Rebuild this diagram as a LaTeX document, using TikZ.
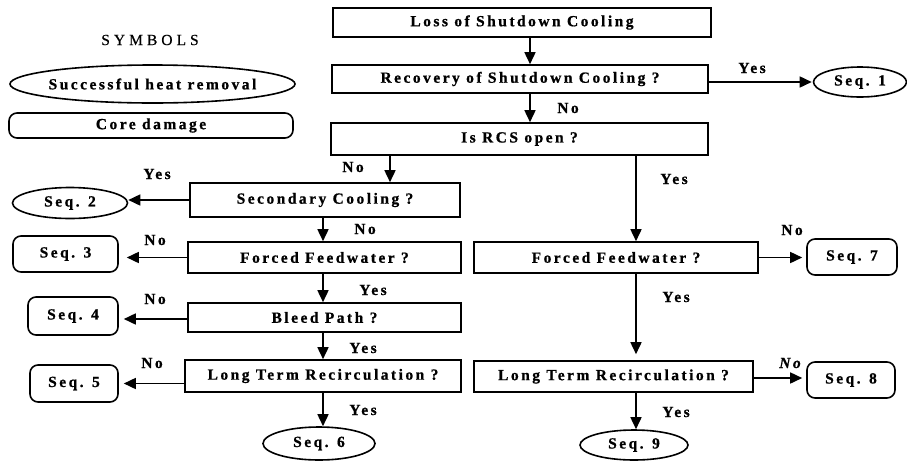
\documentclass[tikz,border=0pt]{standalone}
\usepackage{fontspec}
\setmainfont{Liberation Serif}[LetterSpace=16, BoldFeatures={FakeBold=0.8}, BoldItalicFeatures={FakeBold=0.8}]
\newfontfamily\symfont{Liberation Serif}[LetterSpace=26, FakeBold=0.5]
\usetikzlibrary{shapes.geometric,arrows.meta}
\begin{document}
\begin{tikzpicture}[x=1pt,y=-1pt,
  font=\bfseries\fontsize{15.5}{18}\selectfont,
  box/.style={draw, line width=1.6pt, rectangle, inner sep=0pt},
  term/.style={draw, line width=1.6pt, rounded corners=8pt, inner sep=0pt},
  oval/.style={draw, line width=1.6pt, ellipse, inner sep=0pt},
  arr/.style={line width=1.6pt, -{Triangle[length=12pt,width=11pt]}},
  lbl/.style={inner sep=0pt}]
\useasboundingbox (0,0) rectangle (907,461);

% legend
\node[lbl, font=\symfont\fontsize{15.5}{18}\selectfont] (symt) at (150,40) {SYMBOLS};
\node[oval, minimum width=285pt, minimum height=38pt] (symE) at (152.5,84) {};
\node[lbl] (symEt) at (symE) {Successful heat removal};
\node[term, minimum width=284pt, minimum height=25pt] (symR) at (151,125.5) {Core damage};

% process boxes
\node[box, minimum width=378pt, minimum height=29pt] (loss) at (522,22.5) {Loss of Shutdown Cooling};
\node[box, minimum width=376pt, minimum height=28pt] (rec) at (520,79) {Recovery of Shutdown Cooling ?};
\node[box, minimum width=377pt, minimum height=32pt] (rcs) at (519.5,139) {Is RCS open ?};
\node[box, minimum width=270pt, minimum height=34pt] (sec) at (325,200) {Secondary Cooling ?};
\node[box, minimum width=273pt, minimum height=31pt] (ffl) at (324.5,257.5) {Forced Feedwater ?};
\node[box, minimum width=273pt, minimum height=29pt] (bleed) at (324.5,317.5) {Bleed Path ?};
\node[box, minimum width=276pt, minimum height=32pt] (ltrl) at (323,376) {Long Term Recirculation ?};
\node[box, minimum width=284pt, minimum height=31pt] (ffr) at (616,257.5) {Forced Feedwater ?};
\node[box, minimum width=279pt, minimum height=31pt] (ltrr) at (613.5,376.5) {Long Term Recirculation ?};

% end states
\node[oval, minimum width=93pt, minimum height=30pt] (seq1) at (860,82) {Seq. 1};
\node[oval, minimum width=115pt, minimum height=31pt] (seq2) at (70,203) {Seq. 2};
\node[term, minimum width=105pt, minimum height=36pt] (seq3) at (65.5,254) {Seq. 3};
\node[term, minimum width=90pt, minimum height=38pt] (seq4) at (73,316) {Seq. 4};
\node[term, minimum width=88pt, minimum height=37pt] (seq5) at (74,383.5) {Seq. 5};
\node[oval, minimum width=112pt, minimum height=33pt] (seq6) at (319,443.5) {Seq. 6};
\node[term, minimum width=90pt, minimum height=36pt] (seq7) at (852,257) {Seq. 7};
\node[term, minimum width=88pt, minimum height=36pt] (seq8) at (851,380) {Seq. 8};
\node[oval, minimum width=108pt, minimum height=30pt] (seq9) at (634,445) {Seq. 9};

% columns
\coordinate (cA) at (530,0);
\coordinate (cM) at (390,0);
\coordinate (cL) at (323,0);
\coordinate (cR) at (636,0);

% connectors
\draw[arr] (loss.south -| cA) -- (rec.north -| cA);
\draw[arr] (rec.south -| cA) -- (rcs.north -| cA);
\draw[arr, shorten >=1pt] (rec.east |- seq1.west) -- (seq1.west);
\draw[arr] (rcs.south -| cM) -- (sec.north -| cM);
\draw[arr] (rcs.south -| cR) -- (ffr.north -| cR);
\draw[arr] (sec.west) -- (seq2.east |- sec.west);
\draw[arr] (sec.south -| cL) -- (ffl.north -| cL);
\draw[arr, shorten >=8pt] (ffl.west) -- (seq3.east |- ffl.west);
\draw[arr] (ffl.south -| cL) -- (bleed.north -| cL);
\draw[arr, shorten >=5pt] (bleed.west) ++(0,1.5) -- (seq4.east |- 0,319);
\draw[arr] (bleed.south -| cL) -- (ltrl.north -| cL);
\draw[arr, shorten >=5pt] (ltrl.west |- seq5.east) -- (seq5.east);
\draw[arr] (ltrl.south -| cL) -- (seq6.north -| cL);
\draw[arr, shorten >=4pt] (ffr.east) -- (seq7.west |- ffr.east);
\draw[arr, shorten >=6pt] (ffr.south -| cR) -- (ltrr.north -| cR);
\draw[arr, shorten >=4pt] (ltrr.east |- 0,378) -- (seq8.west |- 0,378);
\draw[arr] (ltrr.south -| cR) -- (seq9.north -| cR);

% labels
\node[lbl] (n1) at (568,108) {No};
\node[lbl] (y1) at (752,68) {Yes};
\node[lbl] (n2) at (353,167) {No};
\node[lbl] (y2) at (157,174) {Yes};
\node[lbl] (y3) at (674,179) {Yes};
\node[lbl] (n3) at (365,229) {No};
\node[lbl] (n4) at (155,240) {No};
\node[lbl] (n5) at (792,230) {No};
\node[lbl] (y4) at (373,290) {Yes};
\node[lbl] (y5) at (676,297) {Yes};
\node[lbl] (n6) at (155,299) {No};
\node[lbl] (y6) at (363,348) {Yes};
\node[lbl] (n7) at (152,363) {No};
\node[lbl, font=\bfseries\itshape\fontsize{15.5}{18}\selectfont] (n8) at (790,363) {No};
\node[lbl] (y7) at (363,410) {Yes};
\node[lbl] (y8) at (676,412) {Yes};
\end{tikzpicture}
\end{document}
